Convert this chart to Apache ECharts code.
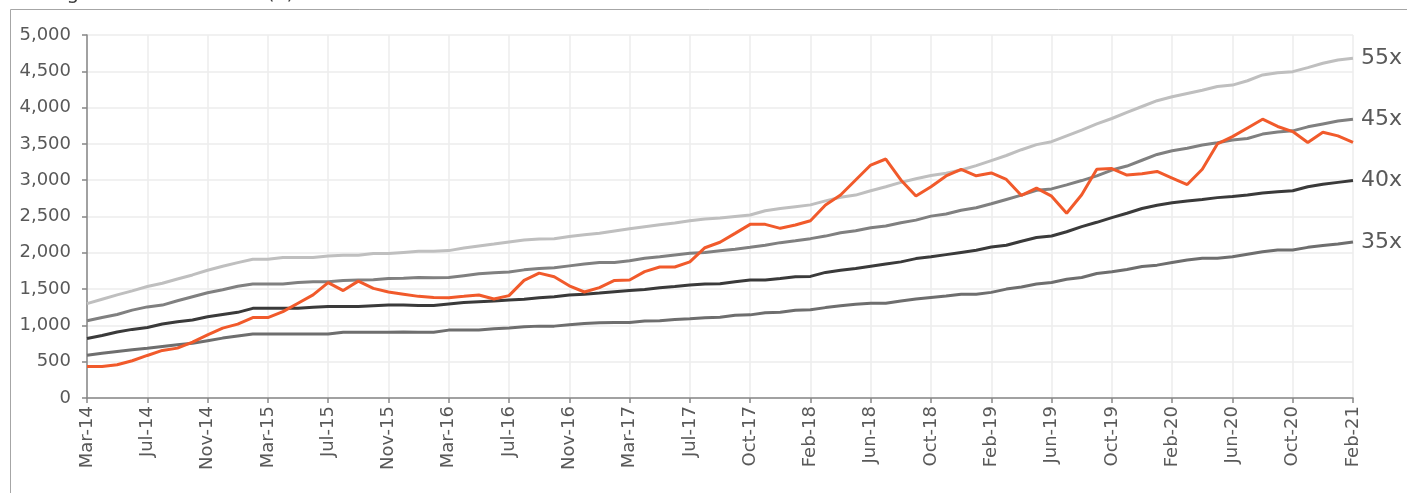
<!DOCTYPE html>
<html>
<head>
<meta charset="utf-8">
<script src="https://cdn.jsdelivr.net/npm/echarts@6/dist/echarts.min.js"></script>
<style>
    html, body { margin: 0; padding: 0; background: #ffffff; }
    #chart { width: 1407px; height: 493px; }
</style>
</head>
<body>
<div id="chart"></div>
<script>
// 月份（Jul-17 与 Oct-17 之间多出一个点）
const months = [
    'Mar-14', 'Apr-14', 'May-14', 'Jun-14', 'Jul-14', 'Aug-14', 'Sep-14', 'Oct-14', 'Nov-14', 'Dec-14', 'Jan-15', 'Feb-15',
    'Mar-15', 'Apr-15', 'May-15', 'Jun-15', 'Jul-15', 'Aug-15', 'Sep-15', 'Oct-15', 'Nov-15', 'Dec-15', 'Jan-16', 'Feb-16',
    'Mar-16', 'Apr-16', 'May-16', 'Jun-16', 'Jul-16', 'Aug-16', 'Sep-16', 'Oct-16', 'Nov-16', 'Dec-16', 'Jan-17', 'Feb-17',
    'Mar-17', 'Apr-17', 'May-17', 'Jun-17', 'Jul-17', 'Aug-17', 'Sep-17', 'Sep-17', 'Oct-17', 'Nov-17', 'Dec-17', 'Jan-18',
    'Feb-18', 'Mar-18', 'Apr-18', 'May-18', 'Jun-18', 'Jul-18', 'Aug-18', 'Sep-18', 'Oct-18', 'Nov-18', 'Dec-18', 'Jan-19',
    'Feb-19', 'Mar-19', 'Apr-19', 'May-19', 'Jun-19', 'Jul-19', 'Aug-19', 'Sep-19', 'Oct-19', 'Nov-19', 'Dec-19', 'Jan-20',
    'Feb-20', 'Mar-20', 'Apr-20', 'May-20', 'Jun-20', 'Jul-20', 'Aug-20', 'Sep-20', 'Oct-20', 'Nov-20', 'Dec-20', 'Jan-21',
    'Feb-21'
];

// 价格
const price = [
    435, 435, 458, 513, 586, 655, 687, 770, 870, 962, 1017, 1108,
    1108, 1190, 1305, 1420, 1590, 1480, 1610, 1510, 1460, 1430, 1400, 1385,
    1382, 1400, 1419, 1364, 1410, 1620, 1720, 1670, 1545, 1460, 1520, 1620,
    1625, 1740, 1805, 1805, 1875, 2070, 2145, 2268, 2392, 2392, 2337, 2383,
    2442, 2658, 2796, 3003, 3209, 3292, 3003, 2782, 2911, 3058, 3150, 3060,
    3100, 3010, 2790, 2890, 2780, 2545, 2800, 3150, 3160, 3070, 3090, 3120,
    3030, 2940, 3150, 3500, 3600, 3720, 3840, 3740, 3670, 3520, 3660, 3610,
    3520
];

// PE 带
const pe55 = [
    1300, 1360, 1420, 1475, 1535, 1580, 1640, 1695, 1760, 1815, 1865, 1910,
    1910, 1935, 1935, 1935, 1955, 1965, 1965, 1990, 1990, 2005, 2020, 2020,
    2030, 2065, 2095, 2120, 2150, 2175, 2190, 2195, 2225, 2250, 2270, 2300,
    2330, 2360, 2385, 2410, 2440, 2465, 2480, 2500, 2520, 2580, 2610, 2635,
    2660, 2715, 2765, 2795, 2855, 2910, 2970, 3020, 3065, 3095, 3140, 3200,
    3270, 3340, 3420, 3490, 3530, 3610, 3690, 3775, 3850, 3935, 4015, 4095,
    4150, 4195, 4240, 4290, 4310, 4370, 4450, 4480, 4495, 4550, 4610, 4655,
    4680
];
const pe45 = [
    1065, 1110, 1150, 1210, 1255, 1280, 1340, 1395, 1450, 1490, 1540, 1570,
    1570, 1570, 1590, 1600, 1600, 1620, 1625, 1630, 1645, 1648, 1660, 1657,
    1660, 1685, 1710, 1725, 1735, 1765, 1785, 1795, 1820, 1845, 1865, 1865,
    1890, 1925, 1945, 1970, 1995, 2005, 2028, 2050, 2075, 2105, 2140, 2165,
    2195, 2230, 2275, 2305, 2345, 2370, 2415, 2450, 2505, 2535, 2585, 2620,
    2675, 2735, 2795, 2860, 2880, 2935, 2995, 3060, 3140, 3195, 3275, 3355,
    3405, 3440, 3485, 3515, 3555, 3575, 3635, 3665, 3680, 3735, 3775, 3815,
    3840
];
const pe40 = [
    820, 860, 910, 945, 970, 1020, 1050, 1075, 1120, 1150, 1180, 1235,
    1235, 1235, 1235, 1250, 1260, 1260, 1260, 1270, 1280, 1280, 1275, 1275,
    1295, 1315, 1325, 1335, 1350, 1360, 1380, 1395, 1420, 1430, 1445, 1465,
    1480, 1495, 1520, 1535, 1555, 1570, 1575, 1600, 1625, 1625, 1645, 1670,
    1675, 1730, 1760, 1785, 1815, 1845, 1875, 1920, 1945, 1975, 2005, 2035,
    2080, 2105, 2160, 2210, 2232, 2290, 2360, 2420, 2485, 2545, 2610, 2655,
    2690, 2715, 2735, 2760, 2775, 2795, 2825, 2840, 2855, 2910, 2945, 2970,
    2995
];
const pe35 = [
    590, 615, 640, 665, 685, 710, 735, 755, 790, 825, 855, 880,
    880, 880, 880, 880, 880, 905, 905, 905, 905, 908, 905, 905,
    935, 937, 937, 955, 965, 980, 990, 990, 1010, 1025, 1035, 1040,
    1040, 1060, 1065, 1080, 1090, 1105, 1112, 1140, 1145, 1175, 1180, 1210,
    1215, 1245, 1270, 1290, 1305, 1305, 1335, 1365, 1385, 1405, 1430, 1430,
    1455, 1500, 1530, 1570, 1592, 1635, 1660, 1715, 1740, 1770, 1810, 1830,
    1865, 1900, 1925, 1925, 1945, 1980, 2015, 2040, 2040, 2075, 2100, 2120,
    2150
];

const bandNames = ['55x', '45x', '40x', '35x'];
const bandData = [pe55, pe45, pe40, pe35];
const bandColors = ['#BFBFBF', '#808080', '#3A3A3A', '#6E6E6E'];

const eChart = echarts.init(document.getElementById('chart'));

const series = bandData.map((d, i) => {
    return {
        name: bandNames[i],
        type: 'line',
        data: d,
        symbol: 'none',
        lineStyle: { color: bandColors[i], width: 3 },
        endLabel: {
            show: true,
            formatter: '{a}',
            distance: 8,
            color: '#595959',
            fontSize: 22,
            fontFamily: 'DejaVu Sans'
        },
        z: 2
    };
});
series.push({
    name: 'Price',
    type: 'line',
    data: price,
    symbol: 'none',
    lineStyle: { color: '#F15A2B', width: 3 },
    z: 3
});

const option = {
    animation: false,
    backgroundColor: '#ffffff',
    textStyle: { fontFamily: 'DejaVu Sans' },
    graphic: [
        {
            type: 'rect',
            shape: { x: 10.5, y: 9.5, width: 1500, height: 600 },
            style: { fill: 'none', stroke: '#A6A6A6', lineWidth: 1 },
            silent: true
        },
        {
            type: 'text',
            left: 12,
            top: -16,
            style: {
                text: 'Rolling forward PE bands (x)',
                fill: '#404040',
                fontSize: 20,
                fontFamily: 'DejaVu Sans'
            }
        }
    ],
    grid: {
        left: 87,
        right: 54,
        top: 35,
        bottom: 95
    },
    xAxis: {
        type: 'category',
        data: months,
        boundaryGap: false,
        axisLine: { lineStyle: { color: '#868686', width: 1.5 } },
        axisTick: { show: true, interval: 3, length: 5, lineStyle: { color: '#868686', width: 1.5 } },
        axisLabel: {
            interval: 3,
            rotate: 90,
            margin: 8,
            color: '#595959',
            fontSize: 18,
            fontFamily: 'DejaVu Sans'
        },
        splitLine: { show: true, interval: 3, lineStyle: { color: '#EDEDED', width: 1.5 } }
    },
    yAxis: {
        type: 'value',
        min: 0,
        max: 5000,
        interval: 500,
        axisLine: { show: true, lineStyle: { color: '#868686', width: 1.5 } },
        axisTick: { show: true, length: 5, lineStyle: { color: '#868686', width: 1.5 } },
        axisLabel: {
            margin: 16,
            color: '#595959',
            fontSize: 18,
            fontFamily: 'DejaVu Sans',
            formatter: function(v) {
                return v.toLocaleString('en-US');
            }
        },
        splitLine: { show: true, lineStyle: { color: '#EDEDED', width: 1.5 } }
    },
    series: series
};
eChart.setOption(option);
</script>
</body>
</html>
